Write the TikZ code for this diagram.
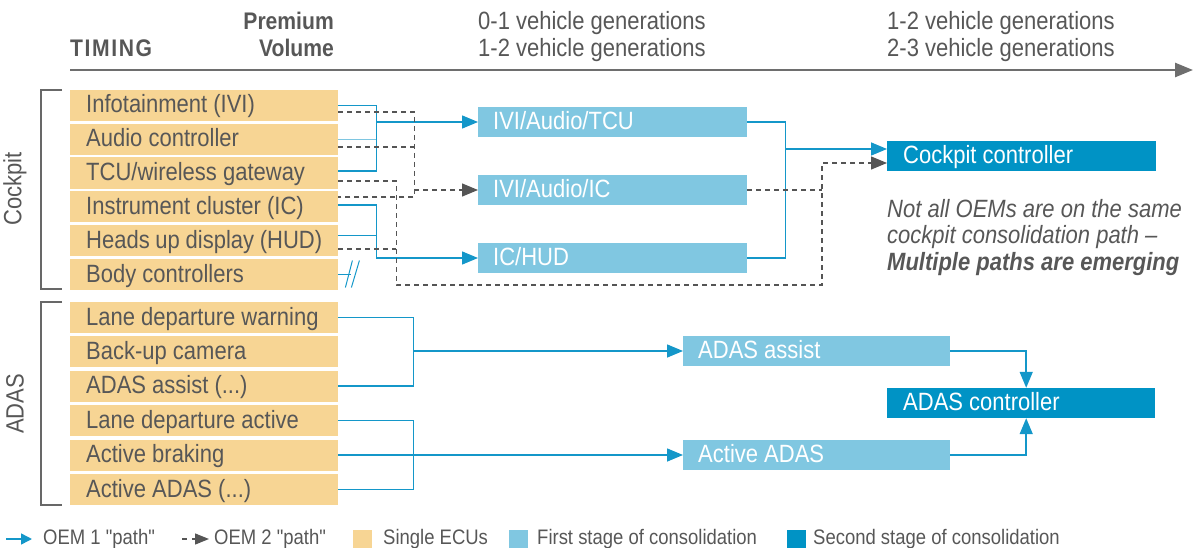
\documentclass[tikz,border=0pt]{standalone}
\usepackage{fontspec}
\setmainfont{Liberation Sans}[FakeStretch=0.88, Ligatures=TeXOff]
\usetikzlibrary{arrows.meta,calc}
\definecolor{txtgray}{HTML}{575757}
\definecolor{ecu}{HTML}{F7D594}
\definecolor{stageone}{HTML}{80C7E1}
\definecolor{stagetwo}{HTML}{0093C5}
\definecolor{oemblue}{HTML}{1497C9}
\definecolor{dashgray}{HTML}{555555}
\definecolor{axisgray}{HTML}{6E6E6E}
\newcommand\lefttext[2]{\hbox to #1{#2\hfil}}
\tikzset{
  boxbase/.style={anchor=west, inner ysep=0pt, text height=20pt, text depth=5pt, font=\fontsize{25}{27}\selectfont},
  ecubox/.style={boxbase, fill=ecu, minimum height=31pt, inner xsep=16pt, text=txtgray},
  oneboxstyle/.style={boxbase, fill=stageone, minimum height=30pt, inner xsep=15pt, text=white},
  twoboxstyle/.style={boxbase, fill=stagetwo, minimum height=30pt, inner xsep=16pt, text=white},
  oemone/.style={draw=oemblue, line width=1.5pt},
  oemonelight/.style={draw=oemblue!55, line width=1.2pt},
  oemtwo/.style={draw=dashgray, line width=1.3pt, dash pattern=on 5pt off 4pt},
  bluetip/.style={-{Triangle[length=16pt,width=13pt]}, color=oemblue},
  graytip/.style={-{Triangle[length=16pt,width=13pt]}, color=dashgray},
  bracketline/.style={draw=txtgray!90, line width=1.8pt},
  headtxt/.style={text=txtgray, inner sep=0pt, font=\fontsize{25}{27}\selectfont},
  legtxt/.style={text=txtgray, inner sep=0pt, anchor=west, font=\fontsize{21}{23}\selectfont},
  legsq/.style={minimum size=19pt, inner sep=0pt, anchor=west}
}
\begin{document}
\begin{tikzpicture}[x=1pt,y=-1pt]
\useasboundingbox (0,0) rectangle (1198,548);

% header
\node[headtxt, anchor=base west, font=\fontsize{24}{26}\selectfont\bfseries] (timing) at (70,57) {T\kern1.6pt I\kern1.6pt M\kern1.6pt I\kern1.6pt N\kern1.6pt G};
\node[headtxt, anchor=base east, font=\fontsize{24}{26}\selectfont\bfseries] (prem) at (334,30) {Premium};
\node[headtxt, anchor=base east, font=\fontsize{24}{26}\selectfont\bfseries] (vol) at (334,57) {Volume};
\node[headtxt, anchor=base west] (g1) at (478,30) {0-1 vehicle generations};
\node[headtxt, anchor=base west] (g2) at (478,57) {1-2 vehicle generations};
\node[headtxt, anchor=base west] (g3) at (887,30) {1-2 vehicle generations};
\node[headtxt, anchor=base west] (g4) at (887,57) {2-3 vehicle generations};
\coordinate (axs) at (70,70);
\coordinate (axe) at (1193,70);
\draw[draw=axisgray, line width=2.6pt, -{Triangle[length=18pt,width=14pt]}] (axs) -- (axe);

% side labels and brackets
\node[headtxt, rotate=90] (lcock) at (15,189) {Cockpit};
\node[headtxt, rotate=90] (ladas) at (15,404) {ADAS};
\coordinate (b1a) at (62,90); \coordinate (b1b) at (41,90);
\coordinate (b1c) at (41,289); \coordinate (b1d) at (62,289);
\draw[bracketline] (b1a) -- (b1b) -- (b1c) -- (b1d);
\coordinate (b2a) at (62,302); \coordinate (b2b) at (41,302);
\coordinate (b2c) at (41,505); \coordinate (b2d) at (62,505);
\draw[bracketline] (b2a) -- (b2b) -- (b2c) -- (b2d);

% single ECUs
\node[ecubox] (ivi) at (70,105.5) {\lefttext{236pt}{Infotainment (IVI)}};
\node[ecubox] (audio) at (70,139.5) {\lefttext{236pt}{Audio controller}};
\node[ecubox] (tcu) at (70,173) {\lefttext{236pt}{TCU/wireless gateway}};
\node[ecubox] (ic) at (70,206.5) {\lefttext{236pt}{Instrument cluster (IC)}};
\node[ecubox] (hud) at (70,240.5) {\lefttext{236pt}{Heads up display (HUD)}};
\node[ecubox] (body) at (70,274.5) {\lefttext{236pt}{Body controllers}};
\node[ecubox] (ldw) at (70,317.5) {\lefttext{236pt}{Lane departure warning}};
\node[ecubox] (buc) at (70,351.5) {\lefttext{236pt}{Back-up camera}};
\node[ecubox] (aas) at (70,386) {\lefttext{236pt}{ADAS assist (...)}};
\node[ecubox] (lda) at (70,420.5) {\lefttext{236pt}{Lane departure active}};
\node[ecubox] (brk) at (70,455) {\lefttext{236pt}{Active braking}};
\node[ecubox] (aad) at (70,489.5) {\lefttext{236pt}{Active ADAS (...)}};

% first stage
\node[oneboxstyle] (c1) at (478,122) {\lefttext{239pt}{IVI/Audio/TCU}};
\node[oneboxstyle] (c2) at (478,190) {\lefttext{239pt}{IVI/Audio/IC}};
\node[oneboxstyle] (c3) at (478,258) {\lefttext{239pt}{IC/HUD}};
\node[oneboxstyle] (s1) at (683,351) {\lefttext{237pt}{ADAS assist}};
\node[oneboxstyle] (s2) at (683,455) {\lefttext{237pt}{Active ADAS}};

% second stage
\node[twoboxstyle] (cc) at (887,156) {\lefttext{237pt}{Cockpit controller}};
\node[twoboxstyle] (ac) at (887,403) {\lefttext{236pt}{ADAS controller}};

% note
\node[text=txtgray, anchor=north west, inner sep=0pt, align=left, font=\fontsize{25}{26.5}\selectfont\itshape] (note) at (887,199) {Not all OEMs are on the same\\cockpit consolidation path –\\\textbf{Multiple paths are emerging}};

% OEM 1 connectors, cockpit
\coordinate (jA) at ([xshift=38pt]ivi.east);
\coordinate (tcub) at ([yshift=2pt]tcu.east);
\draw[oemone] (ivi.east) -- (jA) |- (tcub);
\draw[oemonelight] (audio.east) -- (jA |- audio.east);
\draw[oemone, bluetip] (jA |- c1.west) -- (c1.west);

\coordinate (icb) at ([yshift=1.5pt]ic.east);
\coordinate (hudb) at ([yshift=5pt]hud.east);
\coordinate (jB) at ([xshift=38pt]icb);
\draw[oemone, bluetip] (icb) -- (jB) |- (c3.west);
\draw[oemone] (hudb) -- (jB |- hudb);

\coordinate (bodyend) at ([xshift=13pt]body.east);
\draw[oemone] (body.east) -- (bodyend);
\coordinate (sl1a) at ([xshift=7pt,yshift=-13pt]body.east);
\coordinate (sl1b) at ([xshift=14pt,yshift=14pt]body.east);
\coordinate (sl2a) at ([xshift=13pt,yshift=-13pt]body.east);
\coordinate (sl2b) at ([xshift=21pt,yshift=14pt]body.east);
\draw[draw=oemblue, line width=1pt] (sl1a) -- (sl1b);
\draw[draw=oemblue, line width=1pt] (sl2a) -- (sl2b);

\coordinate (jC) at ([xshift=38pt]c1.east);
\coordinate (ccin1) at ([yshift=7pt]cc.west);
\draw[oemone] (c1.east) -- (jC) |- (c3.east);
\draw[oemone, bluetip] (jC |- ccin1) -- (ccin1);

% OEM 2 connectors
\coordinate (d1) at ([yshift=-6.5pt]ivi.east);
\coordinate (d2) at ([yshift=-7.5pt]audio.east);
\coordinate (d3) at ([yshift=9.5pt]ic.east);
\coordinate (jD) at ([xshift=76pt]d1);
\draw[oemtwo] (d1) -- (jD) -- (jD |- d3) -- (d3);
\draw[oemtwo] (d2) -- (jD |- d2);
\draw[oemtwo, graytip] (jD |- c2.west) -- (c2.west);

\coordinate (d4) at ([yshift=-8pt]tcu.east);
\coordinate (d5) at ([yshift=-8.5pt]hud.east);
\coordinate (jE) at ([xshift=58pt]d4);
\coordinate (jF) at (822,285);
\coordinate (ccin2) at ([yshift=-7pt]cc.west);
\draw[oemtwo, graytip] (d4) -- (jE) -- (jE |- jF) -- (jF) -- (jF |- ccin2) -- (ccin2);
\draw[oemtwo] (d5) -- (jE |- d5);
\draw[oemtwo] (c2.east) -- (jF |- c2.east);

% OEM 1 connectors, ADAS
\coordinate (jG) at ([xshift=75pt]ldw.east);
\draw[oemone] (ldw.east) -- (jG) |- (aas.east);
\draw[oemone, bluetip] (jG |- s1.west) -- (s1.west);
\coordinate (jH) at ([xshift=75pt]lda.east);
\draw[oemone] (lda.east) -- (jH) |- (aad.east);
\draw[oemone, bluetip] (brk.east) -- (s2.west);
\coordinate (acn) at ([xshift=5pt]ac.north);
\coordinate (acs) at ([xshift=5pt]ac.south);
\draw[oemone, bluetip] (s1.east) -| (acn);
\draw[oemone, bluetip] (s2.east) -| (acs);

% legend
\coordinate (la1) at (6,539);
\coordinate (la2) at (32,539);
\draw[oemone, -{Triangle[length=11pt,width=11pt]}, color=oemblue] (la1) -- (la2);
\node[legtxt] (lt1) at (43,539) {OEM 1 "path"};
\coordinate (lb1) at (182,539);
\coordinate (lb2) at (209,539);
\draw[draw=dashgray, line width=1.3pt, dash pattern=on 5pt off 5pt, -{Triangle[length=14pt,width=11pt]}, color=dashgray] (lb1) -- (lb2);
\node[legtxt] (lt2) at (214,539) {OEM 2 "path"};
\node[legsq, fill=ecu] (sq1) at (353,539) {};
\node[legtxt] (lt3) at (383,539) {Single ECUs};
\node[legsq, fill=stageone] (sq2) at (509,539) {};
\node[legtxt] (lt4) at (537,539) {First stage of consolidation};
\node[legsq, fill=stagetwo] (sq3) at (787,539) {};
\node[legtxt] (lt5) at (813,539) {Second stage of consolidation};
\end{tikzpicture}
\end{document}
